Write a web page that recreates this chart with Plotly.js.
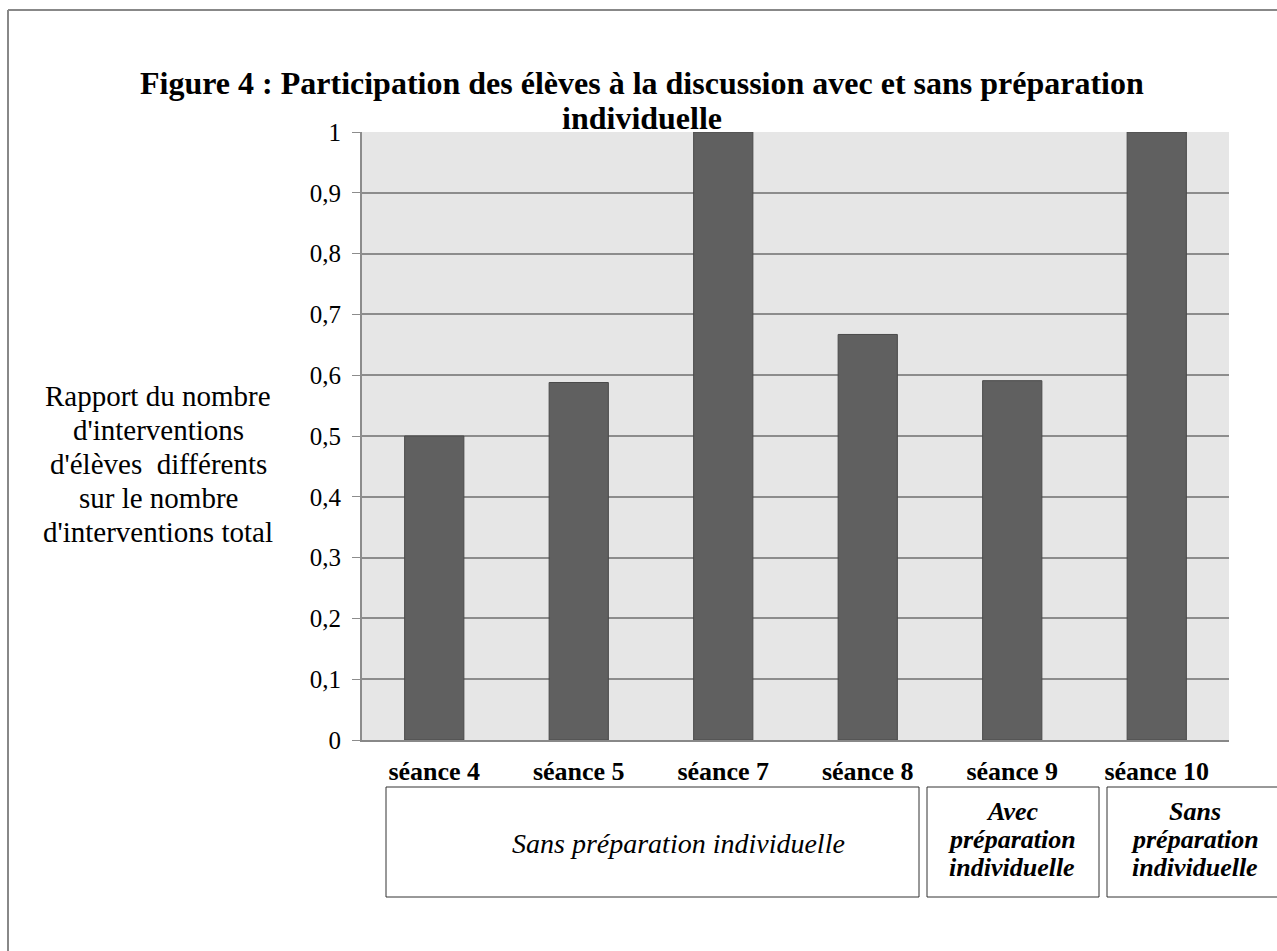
<!DOCTYPE html>
<html>
<head>
<meta charset="utf-8">
<script src="https://cdn.plot.ly/plotly-3.0.1.min.js"></script>
<style>html,body{margin:0;padding:0;background:#fff;}#chart{width:1277px;height:951px;}</style>
</head>
<body>
<div id="chart"></div>
<script>
const categories = ["séance 4", "séance 5", "séance 7", "séance 8", "séance 9", "séance 10"];
const ratios = [0.5, 0.588, 1, 0.667, 0.591, 1];
const yTickVals = [0, 0.1, 0.2, 0.3, 0.4, 0.5, 0.6, 0.7, 0.8, 0.9, 1];
const yTickText = ["0", "0,1", "0,2", "0,3", "0,4", "0,5", "0,6", "0,7", "0,8", "0,9", "1"];
const titleLines = ["Figure 4 : Participation des élèves à la discussion avec et sans préparation", "individuelle"];
const yTitleLines = ["Rapport du nombre", "d'interventions", "d'élèves  différents", "sur le nombre", "d'interventions total"];
const group1Label = "Sans préparation individuelle";
const group2Lines = ["Avec", "préparation", "individuelle"];
const group3Lines = ["Sans", "préparation", "individuelle"];

const W = 1277, H = 951;
const L = 362, R = 1229, T = 132, B = 740;
const px = x => (x - L) / (R - L);
const py = y => (B - y) / (B - T);
const serif = "Liberation Serif, Times New Roman, serif";

const trace = {
  type: "bar",
  x: categories,
  y: ratios,
  marker: { color: "#606060", line: { color: "#4a4a4a", width: 1 } },
  width: 0.41,
  hoverinfo: "x+y"
};

const boxes = [[386, 919], [927, 1099], [1107, 1280]];
const shapes = boxes.map(b => ({
  type: "rect", xref: "paper", yref: "paper",
  x0: px(b[0]), x1: px(b[1]), y0: py(897), y1: py(787),
  line: { color: "#333", width: 1 }, fillcolor: "rgba(0,0,0,0)"
}));
shapes.push({ type: "line", xref: "paper", yref: "paper", x0: px(8), x1: px(8), y0: py(10), y1: py(960), line: { color: "#888", width: 2 } });
shapes.push({ type: "line", xref: "paper", yref: "paper", x0: px(8), x1: px(1290), y0: py(10), y1: py(10), line: { color: "#888", width: 2 } });

function ann(text, x, y, size, opts) {
  return {
    text: text, x: px(x), y: py(y), xref: "paper", yref: "paper",
    showarrow: false, xanchor: "center", yanchor: "middle", align: "center",
    font: Object.assign({ family: serif, size: size, color: "#000" }, opts || {})
  };
}

const annotations = [];
titleLines.forEach((t, i) => annotations.push(ann(t, 642, 83 + i * 35, 32, { weight: "bold" })));
yTitleLines.forEach((t, i) => annotations.push(ann(t, 158, 396 + i * 34, 29)));
annotations.push(ann(group1Label, 678, 843, 28, { style: "italic" }));
group2Lines.forEach((t, i) => annotations.push(ann(t, 1012, 811 + i * 28, 26, { style: "italic", weight: "bold" })));
group3Lines.forEach((t, i) => annotations.push(ann(t, 1195, 811 + i * 28, 26, { style: "italic", weight: "bold" })));

const layout = {
  width: W, height: H,
  margin: { l: L, r: W - R, t: T, b: H - B, pad: 0 },
  paper_bgcolor: "#fff",
  plot_bgcolor: "#e6e6e6",
  showlegend: false,
  xaxis: {
    type: "category",
    showgrid: false,
    showline: true, linecolor: "#888", linewidth: 2,
    ticks: "",
    tickfont: { family: serif, size: 26, color: "#000", weight: "bold" },
    ticklabelstandoff: 7,
    fixedrange: true
  },
  yaxis: {
    range: [0, 1],
    tickvals: yTickVals, ticktext: yTickText,
    showgrid: true, gridcolor: "#8c8c8c", gridwidth: 2,
    showline: true, linecolor: "#8c8c8c", linewidth: 2,
    ticks: "outside", ticklen: 8, tickcolor: "#8c8c8c", tickwidth: 1,
    tickfont: { family: serif, size: 25, color: "#000" },
    ticklabelstandoff: 6,
    zeroline: false,
    fixedrange: true
  },
  shapes: shapes,
  annotations: annotations
};

Plotly.newPlot("chart", [trace], layout, { displayModeBar: false, staticPlot: true });
</script>
</body>
</html>
